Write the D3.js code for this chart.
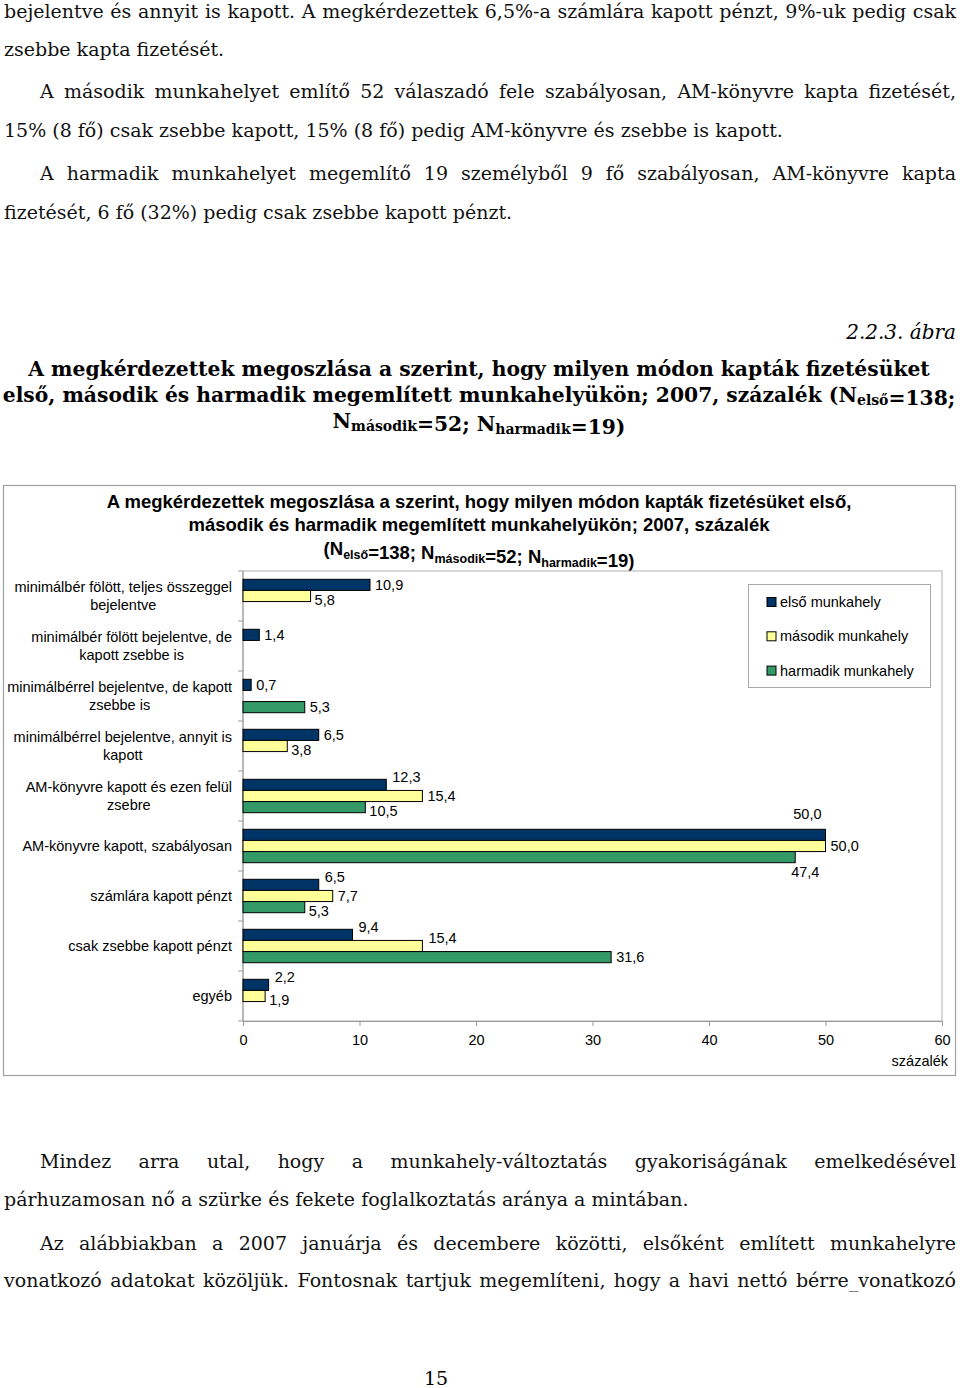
<!DOCTYPE html>
<html><head><meta charset="utf-8">
<script src="https://cdn.jsdelivr.net/npm/d3@7"></script>
<style>body{margin:0;background:#fff} svg{display:block}</style>
</head><body><svg id="c" width="960" height="1388"></svg>
<script>
// ---------- DATA ----------
const categories = [
  "minimálbér fölött, teljes összeggel\nbejelentve",
  "minimálbér fölött bejelentve, de\nkapott zsebbe is",
  "minimálbérrel bejelentve, de kapott\nzsebbe is",
  "minimálbérrel bejelentve, annyit is\nkapott",
  "AM-könyvre kapott és ezen felül\nzsebre",
  "AM-könyvre kapott, szabályosan",
  "számlára kapott pénzt",
  "csak zsebbe kapott pénzt",
  "egyéb"
];
const seriesNames = ["első munkahely", "második munkahely", "harmadik munkahely"];
const elso     = [10.9, 1.4, 0.7, 6.5, 12.3, 50.0, 6.5, 9.4, 2.2];
const masodik  = [5.8, null, null, 3.8, 15.4, 50.0, 7.7, 15.4, 1.9];
const harmadik = [null, null, 5.3, null, 10.5, 47.4, 5.3, 31.6, null];
const xTicks = [0, 10, 20, 30, 40, 50, 60];
// label placement codes: r = right, u = right raised, d = right lowered, a = above, b = below
const elsoPlace     = ["r","r","r","r","u","a","u","u","u"];
const masodikPlace  = ["d","r","r","d","r","r","r","u","d"];
const harmadikPlace = ["r","r","r","r","d","b","d","r","r"];
const colors = ["#003366", "#FFFF99", "#339966"];

const topText = [
  {t:"bejelentve és annyit is kapott. A megkérdezettek 6,5%-a számlára kapott pénzt, 9%-uk pedig csak", j:true, ind:false},
  {t:"zsebbe kapta fizetését.", j:false, ind:false},
  {t:"A második munkahelyet említő 52 válaszadó fele szabályosan, AM-könyvre kapta fizetését,", j:true, ind:true},
  {t:"15% (8 fő) csak zsebbe kapott, 15% (8 fő) pedig AM-könyvre és zsebbe is kapott.", j:false, ind:false},
  {t:"A harmadik munkahelyet megemlítő 19 személyből 9 fő szabályosan, AM-könyvre kapta", j:true, ind:true},
  {t:"fizetését, 6 fő (32%) pedig csak zsebbe kapott pénzt.", j:false, ind:false}
];
const bottomText = [
  {t:"Mindez arra utal, hogy a munkahely-változtatás gyakoriságának emelkedésével", j:true, ind:true},
  {t:"párhuzamosan nő a szürke és fekete foglalkoztatás aránya a mintában.", j:false, ind:false},
  {t:"Az alábbiakban a 2007 januárja és decembere közötti, elsőként említett munkahelyre", j:true, ind:true},
  {t:"vonatkozó adatokat közöljük. Fontosnak tartjuk megemlíteni, hogy a havi nettó bérre_vonatkozó", j:true, ind:false}
];

// ---------- DRAW ----------
const svg = d3.select("#c");
const SANS = "'Liberation Sans', Arial, sans-serif";
const SERIF = "'DejaVu Serif', Georgia, serif";
const BODY_FS = 19;

function bodyLine(d, y) {
  const x0 = d.ind ? 40 : 4, x1 = 956;
  const t = svg.append("text").attr("x", x0).attr("y", y)
    .attr("font-family", SERIF).attr("font-size", BODY_FS).attr("fill", "#111").text(d.t);
  if (d.j) {
    const w = t.node().getComputedTextLength();
    const n = (d.t.match(/ /g) || []).length;
    t.style("word-spacing", ((x1 - x0 - w) / n) + "px");
  }
}
[18, 56, 98, 137, 180, 219].forEach((y, i) => bodyLine(topText[i], y));
[1168, 1206, 1250, 1287].forEach((y, i) => bodyLine(bottomText[i], y));

svg.append("text").attr("x", 436).attr("y", 1385).attr("text-anchor", "middle")
  .attr("font-family", SERIF).attr("font-size", BODY_FS).text("15");

svg.append("text").attr("x", 956).attr("y", 339).attr("text-anchor", "end")
  .attr("font-family", SERIF).attr("font-style", "italic").attr("font-size", 20).text("2.2.3. ábra");

// title helper with subscripts
function titleLine(parts, y, fs, family, weight, subFs, shift) {
  const t = svg.append("text").attr("x", 479).attr("y", y).attr("text-anchor", "middle")
    .attr("font-family", family).attr("font-weight", weight).attr("font-size", fs);
  parts.forEach(p => {
    if (typeof p === "string") t.append("tspan").text(p);
    else {
      t.append("tspan").attr("dy", shift).attr("font-size", subFs).text(p.sub);
      t.append("tspan").attr("dy", -shift).text("");
    }
  });
  return t;
}
titleLine(["A megkérdezettek megoszlása a szerint, hogy milyen módon kapták fizetésüket"], 376, 20.3, SERIF, "bold", 14, 3);
titleLine(["első, második és harmadik megemlített munkahelyükön; 2007, százalék (N", {sub:"első"}, "=138;"], 402, 20.3, SERIF, "bold", 14, 3);
titleLine(["N", {sub:"második"}, "=52; N", {sub:"harmadik"}, "=19)"], 428, 20.3, SERIF, "bold", 14, 3);

// chart frame
svg.append("rect").attr("x", 3.5).attr("y", 485.5).attr("width", 952).attr("height", 590)
  .attr("fill", "#fff").attr("stroke", "#a0a0a0").attr("stroke-width", 1.2);

titleLine(["A megkérdezettek megoszlása a szerint, hogy milyen módon kapták fizetésüket első,"], 508, 18.5, SANS, "bold", 12.5, 4);
titleLine(["második és harmadik megemlített munkahelyükön; 2007, százalék"], 531, 18.5, SANS, "bold", 12.5, 4);
titleLine(["(N", {sub:"első"}, "=138; N", {sub:"második"}, "=52; N", {sub:"harmadik"}, "=19)"], 555, 18.5, SANS, "bold", 12.5, 4);

// scales
const x = d3.scaleLinear().domain([0, 60]).range([243, 942]);
const y0 = d3.scaleBand().domain(d3.range(categories.length)).range([571, 1021]).padding(0);
const y1 = d3.scaleBand().domain([0, 1, 2]).range([8.3, 41.7]).padding(0);

// plot area border
svg.append("rect").attr("x", x(0)).attr("y", 571).attr("width", x(60) - x(0)).attr("height", 450)
  .attr("fill", "none").attr("stroke", "#b0b0b0").attr("stroke-width", 1);

// axes
const yAxis = svg.append("g").attr("stroke", "#999");
yAxis.append("line").attr("x1", x(0)).attr("x2", x(0)).attr("y1", 571).attr("y2", 1021);
d3.range(categories.length + 1).forEach(i => {
  const yy = 571 + i * y0.bandwidth();
  yAxis.append("line").attr("x1", x(0) - 5).attr("x2", x(0)).attr("y1", yy).attr("y2", yy);
});
const xAxis = svg.append("g").attr("transform", "translate(0,1021)")
  .call(d3.axisBottom(x).tickValues(xTicks).tickSize(5).tickPadding(9).tickFormat(d3.format("d")));
xAxis.select(".domain").attr("stroke", "#999");
xAxis.selectAll(".tick line").attr("stroke", "#999");
xAxis.selectAll(".tick text").attr("font-family", SANS).attr("font-size", 14.5).attr("fill", "#000");
svg.append("text").attr("x", 948).attr("y", 1066).attr("text-anchor", "end")
  .attr("font-family", SANS).attr("font-size", 14.5).text("százalék");

// category labels
categories.forEach((c, i) => {
  const lines = c.split("\n");
  const cy = y0(i) + y0.bandwidth() / 2;
  const g = svg.append("g");
  const texts = lines.map((l, k) => g.append("text")
    .attr("y", cy + (k - (lines.length - 1) / 2) * 18).attr("dy", "0.35em")
    .attr("font-family", SANS).attr("font-size", 14.5).attr("text-anchor", "middle").text(l));
  const maxW = d3.max(texts, t => t.node().getComputedTextLength());
  texts.forEach(t => t.attr("x", 232 - maxW / 2));
});

// bars
const series = [elso, masodik, harmadik];
const places = [elsoPlace, masodikPlace, harmadikPlace];
const fmt = v => d3.format(".1f")(v).replace(".", ",");
series.forEach((vals, s) => {
  vals.forEach((v, i) => {
    if (v == null) return;
    const yb = y0(i) + y1(s), h = y1.bandwidth();
    svg.append("rect").attr("x", x(0)).attr("y", yb).attr("width", x(v) - x(0)).attr("height", h)
      .attr("fill", colors[s]).attr("stroke", "#000").attr("stroke-width", 1);
    const end = x(v), cy = yb + h / 2;
    const p = places[s][i];
    let lx = end + 5, ly = cy, anchor = "start";
    if (p === "u") { lx = end + 6; ly = cy - 8; }
    else if (p === "d") { lx = end + 4; ly = cy + 4; }
    else if (p === "a") { lx = end - 4; ly = yb - 15; anchor = "end"; }
    else if (p === "b") { lx = end - 4; ly = yb + h + 9; }
    svg.append("text").attr("x", lx).attr("y", ly).attr("dy", "0.35em").attr("text-anchor", anchor)
      .attr("font-family", SANS).attr("font-size", 14.5).text(fmt(v));
  });
});

// legend
const lg = svg.append("g");
lg.append("rect").attr("x", 748.5).attr("y", 584.5).attr("width", 182).attr("height", 103)
  .attr("fill", "#fff").attr("stroke", "#a8a8a8");
seriesNames.forEach((n, i) => {
  const cy = 602 + i * 34.3;
  lg.append("rect").attr("x", 767).attr("y", cy - 4.5).attr("width", 9).attr("height", 9)
    .attr("fill", colors[i]).attr("stroke", "#000");
  lg.append("text").attr("x", 780).attr("y", cy).attr("dy", "0.35em")
    .attr("font-family", SANS).attr("font-size", 14.5).text(n);
});
</script></body></html>
